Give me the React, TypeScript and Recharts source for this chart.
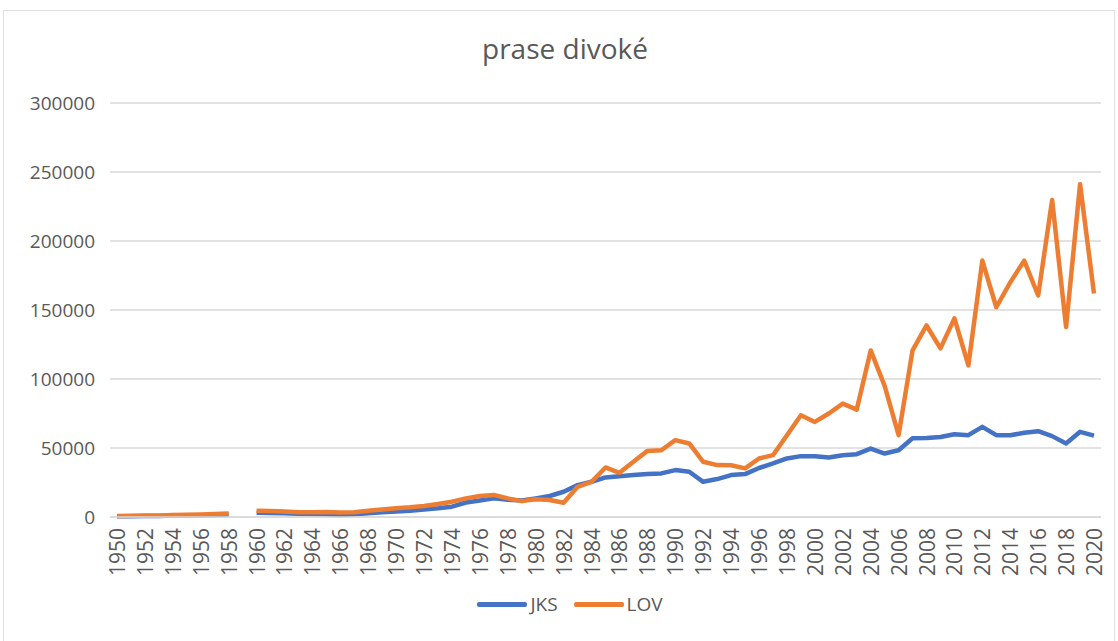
import React from 'react';
import { LineChart, Line, XAxis, YAxis, CartesianGrid, Legend } from 'recharts';

const years = [
  '1950', '1951', '1952', '1953', '1954', '1955', '1956', '1957', '1958', '1959',
  '1960', '1961', '1962', '1963', '1964', '1965', '1966', '1967', '1968', '1969',
  '1970', '1971', '1972', '1973', '1974', '1975', '1976', '1977', '1978', '1979',
  '1980', '1981', '1982', '1983', '1984', '1985', '1986', '1987', '1988', '1989',
  '1990', '1991', '1992', '1993', '1994', '1995', '1996', '1997', '1998', '1999',
  '2000', '2001', '2002', '2003', '2004', '2005', '2006', '2007', '2008', '2009',
  '2010', '2011', '2012', '2013', '2014', '2015', '2016', '2017', '2018', '2019',
  '2020',
];

// JKS
const jks = [
  500, 600, 700, 800, 1000, 1100, 1300, 1500, 1800, null,
  3000, 2900, 2700, 2400, 2200, 2000, 1400, 2000, 2800, 3400,
  4000, 4600, 5400, 6300, 7500, 10500, 12000, 13500, 12500, 12000,
  13500, 15200, 18300, 23100, 25500, 28700, 29600, 30400, 31100, 31600,
  34000, 32800, 25500, 27500, 30400, 31100, 35500, 38800, 42400, 44100,
  44100, 43100, 44800, 45500, 49600, 46000, 48400, 57100, 57200, 58000,
  60000, 59300, 65300, 59300, 59300, 61000, 62200, 58600, 53300, 61700,
  59000,
];

// LOV
const lov = [
  800, 900, 1000, 1100, 1400, 1600, 1800, 2100, 2500, null,
  4500, 4300, 4000, 3500, 3400, 3600, 3200, 3400, 4600, 5500,
  6300, 7000, 8000, 9400, 11100, 13500, 15200, 16000, 13500, 11500,
  12800, 12300, 10300, 21900, 25500, 35900, 32000, 40000, 47900, 48400,
  55700, 53300, 40000, 37600, 37500, 35200, 42400, 44800, 59300, 73700,
  68900, 75000, 82200, 77800, 120700, 95000, 59300, 120700, 138800, 122200,
  143900, 109900, 185800, 152000, 170000, 185800, 160500, 229700, 137600, 241200,
  161900,
];

const yTicks = [0, 50000, 100000, 150000, 200000, 250000, 300000];

const data = years.map((year, i) => ({ year, JKS: jks[i], LOV: lov[i] }));

const FONT = '"Open Sans", sans-serif';
const TEXT = '#595959';
const GRID = '#d9d9d9';

function YearTick({ x, y, payload }: any) {
  return (
    <text
      x={x}
      y={y}
      transform={`rotate(-90 ${x} ${y})`}
      textAnchor="end"
      dominantBaseline="central"
      fill={TEXT}
      fontSize={21}
      fontFamily={FONT}
    >
      {payload.value}
    </text>
  );
}

function LegendRow({ payload }: any) {
  return (
    <div style={{ display: 'flex', justifyContent: 'center', gap: 16, paddingLeft: 22, fontFamily: FONT, fontSize: 19, color: TEXT }}>
      {(payload || []).map((p: any) => (
        <span key={p.value} style={{ display: 'flex', alignItems: 'center' }}>
          <span style={{ width: 50, height: 5, borderRadius: 2, background: p.color, display: 'inline-block', marginRight: 3 }} />
          {p.value}
        </span>
      ))}
    </div>
  );
}

export default function App() {
  return (
    <div style={{ position: 'fixed', left: 0, top: 0, width: 1118, height: 641, background: '#fff', overflow: 'hidden' }}>
      <div style={{ position: 'absolute', left: 3, top: 10, width: 1110, height: 640, border: '1px solid #e0e0e0' }} />
      <div
        style={{
          position: 'absolute', left: 0, top: 29, width: 1118, textAlign: 'center', paddingLeft: 12, boxSizing: 'border-box',
          fontFamily: FONT, fontSize: 28, color: TEXT,
        }}
      >
        prase divoké
      </div>
      <div style={{ position: 'absolute', left: 0, top: 0 }}>
        <LineChart width={1118} height={641} data={data} margin={{ top: 103, right: 17, left: 0, bottom: 0 }}>
          <CartesianGrid vertical={false} stroke={GRID} strokeWidth={1.5} />
          <XAxis
            dataKey="year"
            interval={1}
            padding={{ left: 7, right: 7 }}
            height={124}
            tickSize={0}
            tickMargin={11}
            tickLine={false}
            axisLine={{ stroke: GRID, strokeWidth: 1.5 }}
            tick={<YearTick />}
          />
          <YAxis
            domain={[0, 300000]}
            ticks={yTicks}
            width={110}
            tickSize={0}
            tickMargin={15}
            axisLine={false}
            tickLine={false}
            tick={{ fill: TEXT, fontSize: 19, fontFamily: FONT }}
          />
          <Legend
            layout="horizontal"
            verticalAlign="middle"
            align="center"
            wrapperStyle={{ top: 591, left: 0, width: 1118 }}
            content={<LegendRow />}
          />
          <Line type="linear" dataKey="JKS" stroke="#4472C4" strokeWidth={4.5} dot={false} isAnimationActive={false} strokeLinejoin="round" />
          <Line type="linear" dataKey="LOV" stroke="#ED7D31" strokeWidth={4.5} dot={false} isAnimationActive={false} strokeLinejoin="round" />
        </LineChart>
      </div>
    </div>
  );
}
